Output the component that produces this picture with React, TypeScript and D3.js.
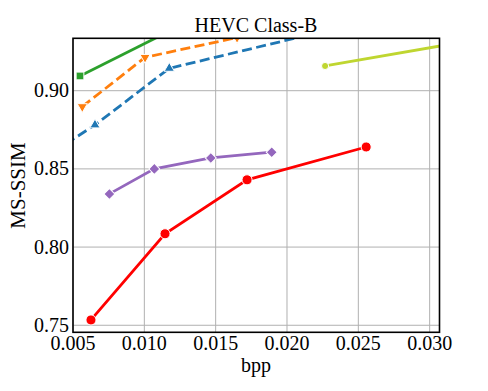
import React from 'react';
import * as d3 from 'd3';

// bpp / MS-SSIM readings per method
const redX = [0.00626, 0.01145, 0.0172, 0.02555];
const redY = [0.7534, 0.8085, 0.843, 0.864];
const purpleX = [0.00755, 0.0107, 0.01466, 0.01893];
const purpleY = [0.834, 0.85, 0.857, 0.8607];
const blueX = [0.0045, 0.00654, 0.01175, 0.024];
const blueY = [0.866, 0.8781, 0.9143, 0.9411];
const orangeX = [0.00565, 0.01005, 0.0165];
const orangeY = [0.8898, 0.9213, 0.934];
const greenX = [0.00549, 0.0115];
const greenY = [0.9094, 0.9369];
const limeX = [0.02267, 0.0335];
const limeY = [0.9158, 0.933];

const xTicks = [0.005, 0.01, 0.015, 0.02, 0.025, 0.03];
const yTicks = [0.75, 0.8, 0.85, 0.9];

const series = [
  { xs: blueX, ys: blueY, color: '#1f77b4', dash: '10,4.5', marker: 'triUp' },
  { xs: orangeX, ys: orangeY, color: '#ff7f0e', dash: '10,4.5', marker: 'triDown' },
  { xs: greenX, ys: greenY, color: '#2ca02c', dash: null, marker: 'square' },
  { xs: limeX, ys: limeY, color: '#bfd630', dash: null, marker: 'hex' },
  { xs: purpleX, ys: purpleY, color: '#9467bd', dash: null, marker: 'diamond' },
  { xs: redX, ys: redY, color: '#ff0000', dash: null, marker: 'circle' },
];

const symbols: Record<string, { type: any; size: number; rotate?: number }> = {
  triUp: { type: d3.symbolTriangle, size: 45 },
  triDown: { type: d3.symbolTriangle, size: 45, rotate: 180 },
  square: { type: d3.symbolSquare, size: 60 },
  hex: { type: d3.symbolCircle, size: 40 },
  diamond: { type: d3.symbolSquare, size: 60, rotate: 45 },
  circle: { type: d3.symbolCircle, size: 80 },
};

const font = "'Liberation Serif', 'Times New Roman', serif";

export default function App() {
  const W = 488;
  const H = 391;
  const left = 73, right = 439.5, top = 38.3, bottom = 332.3;

  const x = d3.scaleLinear().domain([0.005, 0.03069]).range([left, right]);
  const y = d3.scaleLinear().domain([0.7455, 0.9335]).range([bottom, top]);

  const line = d3.line<[number, number]>()
    .x(d => x(d[0]))
    .y(d => y(d[1]));

  return (
    <svg width={W} height={H} style={{ position: 'absolute', left: 0, top: 0, background: '#fff', fontFamily: font }}>
      <defs>
        <clipPath id="plot">
          <rect x={left} y={top} width={right - left} height={bottom - top} />
        </clipPath>
      </defs>

      {/* grid */}
      {xTicks.map(t => (
        <line key={'gx' + t} x1={x(t)} x2={x(t)} y1={top} y2={bottom} stroke="#b0b0b0" strokeWidth={1} />
      ))}
      {yTicks.map(t => (
        <line key={'gy' + t} x1={left} x2={right} y1={y(t)} y2={y(t)} stroke="#b0b0b0" strokeWidth={1} />
      ))}

      <g clipPath="url(#plot)">
        {series.map((s, i) => {
          const pts = s.xs.map((v, j) => [v, s.ys[j]] as [number, number]);
          return (
            <path key={'l' + i} d={line(pts) || ''} fill="none" stroke={s.color} strokeWidth={2.8}
              strokeDasharray={s.dash || undefined} />
          );
        })}
        {series.map((s, i) => {
          const sym = symbols[s.marker];
          const path = d3.symbol().type(sym.type).size(sym.size)() || '';
          return s.xs.map((v, j) => (
            <path key={'m' + i + '-' + j} d={path}
              transform={`translate(${x(v)},${y(s.ys[j])}) rotate(${sym.rotate || 0})`}
              fill={s.color} stroke="#fff" strokeWidth={1} />
          ));
        })}
      </g>

      {/* frame */}
      <rect x={left} y={top} width={right - left} height={bottom - top} fill="none" stroke="#000" strokeWidth={1.6} />

      {xTicks.map(t => (
        <text key={'tx' + t} x={x(t)} y={350} textAnchor="middle" fontSize={20} style={{ fontFamily: font }}>{t.toFixed(3)}</text>
      ))}
      {yTicks.map(t => (
        <text key={'ty' + t} x={69} y={y(t) + 6.6} textAnchor="end" fontSize={20} style={{ fontFamily: font }}>{t.toFixed(2)}</text>
      ))}

      <text x={256} y={32.3} textAnchor="middle" fontSize={20} style={{ fontFamily: font }}>HEVC Class-B</text>
      <text x={256} y={372} textAnchor="middle" fontSize={20} style={{ fontFamily: font }}>bpp</text>
      <text transform="translate(25,185.5) rotate(-90)" textAnchor="middle" fontSize={21} style={{ fontFamily: font }}>MS-SSIM</text>
    </svg>
  );
}
